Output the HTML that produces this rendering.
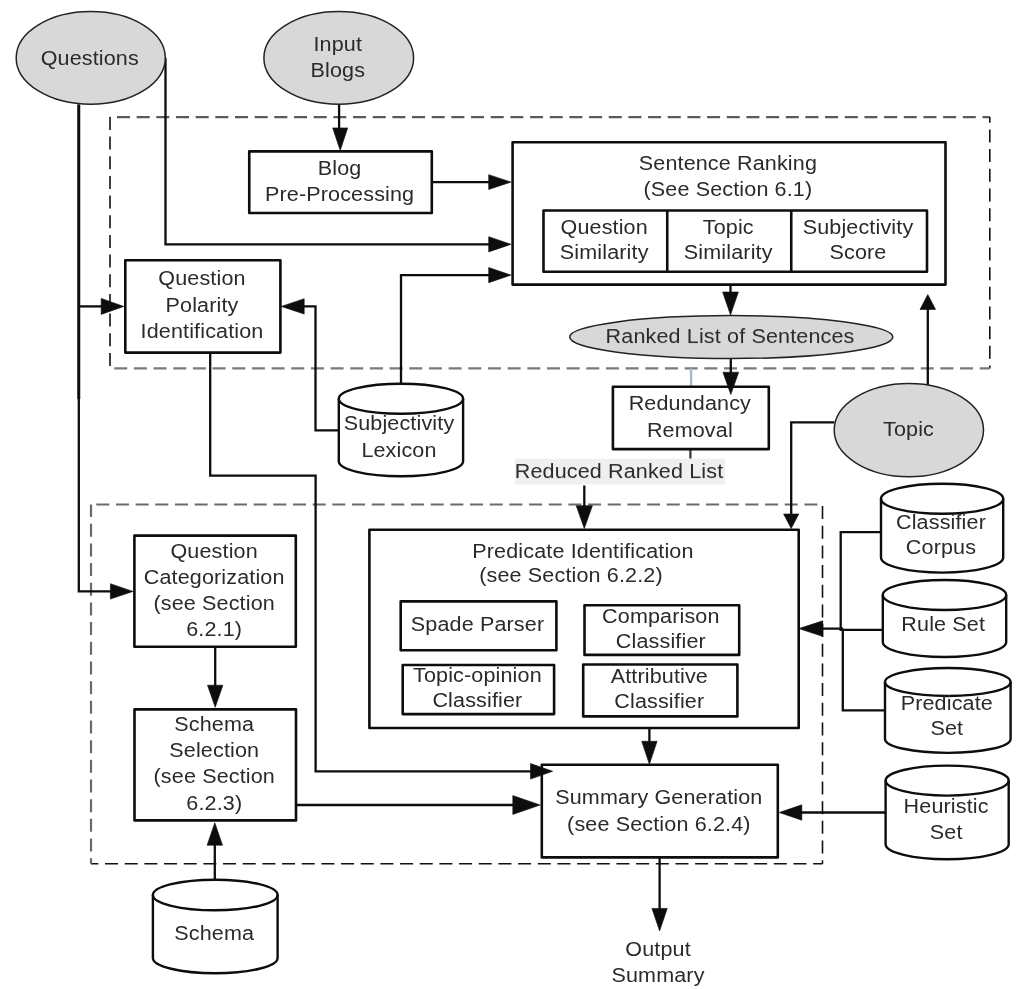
<!DOCTYPE html>
<html><head><meta charset="utf-8"><style>
html,body{margin:0;padding:0;background:#fff;overflow:hidden;}
svg{display:block;will-change:transform;}
</style></head><body>
<svg width="1022" height="989" viewBox="0 0 1022 989">
<rect x="0" y="0" width="1022" height="989" fill="#fff"/>
<path d="M110,117.1 L989.8,117.1" fill="none" stroke="#5a5a5a" stroke-width="2.1" stroke-dasharray="13 6.67" stroke-dashoffset="12.67"/>
<path d="M989.8,117.1 L989.8,368.4" fill="none" stroke="#111" stroke-width="1.6" stroke-dasharray="13 6.67" stroke-dashoffset="7.32"/>
<path d="M989.8,368.4 L110,368.4" fill="none" stroke="#7a7a7a" stroke-width="2.3" stroke-dasharray="13 6.67" stroke-dashoffset="2.91"/>
<path d="M110,368.4 L110,117.1" fill="none" stroke="#111" stroke-width="1.6" stroke-dasharray="13 6.67" stroke-dashoffset="17.23"/>
<path d="M91,504.5 L822.5,504.5" fill="none" stroke="#6a6a6a" stroke-width="2.2" stroke-dasharray="13 6.67" stroke-dashoffset="14.37"/>
<path d="M822.5,504.5 L822.5,863.8" fill="none" stroke="#111" stroke-width="1.6" stroke-dasharray="13 6.67" stroke-dashoffset="18.08"/>
<path d="M822.5,863.8 L91,863.8" fill="none" stroke="#111" stroke-width="1.6" stroke-dasharray="13 6.67" stroke-dashoffset="3.65"/>
<path d="M91,863.8 L91,504.5" fill="none" stroke="#6a6a6a" stroke-width="2.2" stroke-dasharray="13 6.67" stroke-dashoffset="7.36"/>
<path d="M78.80,104.50 L78.80,591.40 L112.00,591.40" fill="none" stroke="#0d0d0d" stroke-width="2.3" stroke-linejoin="miter" stroke-linecap="butt"/>
<path d="M78.80,104.50 L78.80,399.00" fill="none" stroke="#0d0d0d" stroke-width="2.9" stroke-linejoin="miter" stroke-linecap="butt"/>
<path d="M78.80,306.40 L103.00,306.40" fill="none" stroke="#0d0d0d" stroke-width="2.3" stroke-linejoin="miter" stroke-linecap="butt"/>
<path d="M165.50,58.00 L165.50,244.30 L490.00,244.30" fill="none" stroke="#0d0d0d" stroke-width="2.3" stroke-linejoin="miter" stroke-linecap="butt"/>
<path d="M339.10,104.50 L339.10,130.00" fill="none" stroke="#0d0d0d" stroke-width="2.3" stroke-linejoin="miter" stroke-linecap="butt"/>
<path d="M432.00,182.05 L490.00,182.05" fill="none" stroke="#0d0d0d" stroke-width="2.3" stroke-linejoin="miter" stroke-linecap="butt"/>
<path d="M401.00,383.80 L401.00,275.10 L490.00,275.10" fill="none" stroke="#0d0d0d" stroke-width="2.3" stroke-linejoin="miter" stroke-linecap="butt"/>
<path d="M338.80,430.30 L315.50,430.30 L315.50,306.40 L300.00,306.40" fill="none" stroke="#0d0d0d" stroke-width="2.3" stroke-linejoin="miter" stroke-linecap="butt"/>
<path d="M210.20,352.60 L210.20,475.60 L315.60,475.60 L315.60,771.30 L533.00,771.30" fill="none" stroke="#0d0d0d" stroke-width="2.3" stroke-linejoin="miter" stroke-linecap="butt"/>
<path d="M730.50,271.70 L730.50,295.00" fill="none" stroke="#0d0d0d" stroke-width="2.3" stroke-linejoin="miter" stroke-linecap="butt"/>
<path d="M730.80,358.50 L730.80,375.00" fill="none" stroke="#0d0d0d" stroke-width="2.3" stroke-linejoin="miter" stroke-linecap="butt"/>
<path d="M691.10,368.40 L691.10,386.70" fill="none" stroke="#a9b9cc" stroke-width="2.4" stroke-linejoin="miter" stroke-linecap="butt"/>
<path d="M690.40,449.10 L690.40,458.70" fill="none" stroke="#333" stroke-width="2.2" stroke-linejoin="miter" stroke-linecap="butt"/>
<rect x="515" y="458.7" width="210" height="25.8" fill="#efefef"/>
<path d="M584.30,485.50 L584.30,508.00" fill="none" stroke="#0d0d0d" stroke-width="2.3" stroke-linejoin="miter" stroke-linecap="butt"/>
<path d="M834.20,422.40 L791.20,422.40 L791.20,516.00" fill="none" stroke="#0d0d0d" stroke-width="2.3" stroke-linejoin="miter" stroke-linecap="butt"/>
<path d="M927.80,385.20 L927.80,307.00" fill="none" stroke="#0d0d0d" stroke-width="2.3" stroke-linejoin="miter" stroke-linecap="butt"/>
<path d="M881.00,532.20 L840.70,532.20 L840.70,629.80 L842.80,629.80 L842.80,710.40 L886.00,710.40" fill="none" stroke="#0d0d0d" stroke-width="2.3" stroke-linejoin="miter" stroke-linecap="butt"/>
<path d="M882.80,629.80 L842.00,629.80 L842.00,628.60 L820.00,628.60" fill="none" stroke="#0d0d0d" stroke-width="2.3" stroke-linejoin="miter" stroke-linecap="butt"/>
<path d="M649.40,728.00 L649.40,745.00" fill="none" stroke="#0d0d0d" stroke-width="2.3" stroke-linejoin="miter" stroke-linecap="butt"/>
<path d="M215.20,646.80 L215.20,690.00" fill="none" stroke="#0d0d0d" stroke-width="2.3" stroke-linejoin="miter" stroke-linecap="butt"/>
<path d="M214.80,879.70 L214.80,840.00" fill="none" stroke="#0d0d0d" stroke-width="2.3" stroke-linejoin="miter" stroke-linecap="butt"/>
<path d="M296.00,805.00 L520.00,805.00" fill="none" stroke="#0d0d0d" stroke-width="2.3" stroke-linejoin="miter" stroke-linecap="butt"/>
<path d="M885.60,812.50 L798.00,812.50" fill="none" stroke="#0d0d0d" stroke-width="2.3" stroke-linejoin="miter" stroke-linecap="butt"/>
<path d="M659.60,857.40 L659.60,912.00" fill="none" stroke="#0d0d0d" stroke-width="2.3" stroke-linejoin="miter" stroke-linecap="butt"/>
<ellipse cx="90.75" cy="57.95" rx="74.55" ry="46.35" fill="#d8d8d8" stroke="#222" stroke-width="1.5"/>
<ellipse cx="338.75" cy="57.95" rx="74.85" ry="46.35" fill="#d8d8d8" stroke="#222" stroke-width="1.5"/>
<ellipse cx="731.25" cy="337.05" rx="161.55" ry="21.45" fill="#d8d8d8" stroke="#222" stroke-width="1.5"/>
<ellipse cx="908.85" cy="430.10" rx="74.65" ry="46.60" fill="#d8d8d8" stroke="#222" stroke-width="1.5"/>
<rect x="249.25" y="151.35" width="182.55" height="61.65" fill="#fff" stroke="#0d0d0d" stroke-width="2.6" stroke-linejoin="round"/>
<rect x="512.60" y="142.20" width="432.90" height="142.40" fill="#fff" stroke="#0d0d0d" stroke-width="2.6" stroke-linejoin="round"/>
<rect x="543.50" y="210.50" width="383.50" height="61.20" fill="#fff" stroke="#0d0d0d" stroke-width="2.6" stroke-linejoin="round"/>
<path d="M667.25,210.50 L667.25,271.70" fill="none" stroke="#0d0d0d" stroke-width="2.6" stroke-linejoin="miter" stroke-linecap="butt"/>
<path d="M791.25,210.50 L791.25,271.70" fill="none" stroke="#0d0d0d" stroke-width="2.6" stroke-linejoin="miter" stroke-linecap="butt"/>
<rect x="125.30" y="260.25" width="155.10" height="92.35" fill="#fff" stroke="#0d0d0d" stroke-width="2.6" stroke-linejoin="round"/>
<rect x="612.90" y="386.70" width="155.90" height="62.40" fill="#fff" stroke="#0d0d0d" stroke-width="2.6" stroke-linejoin="round"/>
<rect x="369.40" y="529.80" width="429.30" height="198.20" fill="#fff" stroke="#0d0d0d" stroke-width="2.6" stroke-linejoin="round"/>
<rect x="400.70" y="601.40" width="155.70" height="48.80" fill="#fff" stroke="#0d0d0d" stroke-width="2.6" stroke-linejoin="round"/>
<rect x="402.70" y="665.00" width="151.40" height="49.10" fill="#fff" stroke="#0d0d0d" stroke-width="2.6" stroke-linejoin="round"/>
<rect x="584.50" y="605.30" width="154.70" height="49.60" fill="#fff" stroke="#0d0d0d" stroke-width="2.6" stroke-linejoin="round"/>
<rect x="583.20" y="664.50" width="154.20" height="51.90" fill="#fff" stroke="#0d0d0d" stroke-width="2.6" stroke-linejoin="round"/>
<rect x="134.40" y="535.60" width="161.40" height="111.20" fill="#fff" stroke="#0d0d0d" stroke-width="2.6" stroke-linejoin="round"/>
<rect x="134.50" y="709.40" width="161.50" height="111.00" fill="#fff" stroke="#0d0d0d" stroke-width="2.6" stroke-linejoin="round"/>
<rect x="541.80" y="764.80" width="236.00" height="92.60" fill="#fff" stroke="#0d0d0d" stroke-width="2.6" stroke-linejoin="round"/>
<path d="M338.80,398.80 L338.80,461.20 A62.15,15 0 0 0 463.10,461.20 L463.10,398.80 A62.15,15 0 0 0 338.80,398.80 Z" fill="#fff" stroke="#0d0d0d" stroke-width="2.4"/>
<path d="M338.80,398.80 A62.15,15 0 0 0 463.10,398.80" fill="none" stroke="#0d0d0d" stroke-width="2.4"/>
<path d="M881.00,498.80 L881.00,557.60 A61.10,15 0 0 0 1003.20,557.60 L1003.20,498.80 A61.10,15 0 0 0 881.00,498.80 Z" fill="#fff" stroke="#0d0d0d" stroke-width="2.4"/>
<path d="M881.00,498.80 A61.10,15 0 0 0 1003.20,498.80" fill="none" stroke="#0d0d0d" stroke-width="2.4"/>
<path d="M882.80,595.00 L882.80,642.00 A61.70,15 0 0 0 1006.20,642.00 L1006.20,595.00 A61.70,15 0 0 0 882.80,595.00 Z" fill="#fff" stroke="#0d0d0d" stroke-width="2.4"/>
<path d="M882.80,595.00 A61.70,15 0 0 0 1006.20,595.00" fill="none" stroke="#0d0d0d" stroke-width="2.4"/>
<path d="M885.00,682.00 L885.00,738.90 A62.80,14 0 0 0 1010.60,738.90 L1010.60,682.00 A62.80,14 0 0 0 885.00,682.00 Z" fill="#fff" stroke="#0d0d0d" stroke-width="2.4"/>
<path d="M885.00,682.00 A62.80,14 0 0 0 1010.60,682.00" fill="none" stroke="#0d0d0d" stroke-width="2.4"/>
<path d="M885.60,780.60 L885.60,844.20 A61.55,15 0 0 0 1008.70,844.20 L1008.70,780.60 A61.55,15 0 0 0 885.60,780.60 Z" fill="#fff" stroke="#0d0d0d" stroke-width="2.4"/>
<path d="M885.60,780.60 A61.55,15 0 0 0 1008.70,780.60" fill="none" stroke="#0d0d0d" stroke-width="2.4"/>
<path d="M152.90,895.00 L152.90,957.90 A62.35,15.3 0 0 0 277.60,957.90 L277.60,895.00 A62.35,15.3 0 0 0 152.90,895.00 Z" fill="#fff" stroke="#0d0d0d" stroke-width="2.4"/>
<path d="M152.90,895.00 A62.35,15.3 0 0 0 277.60,895.00" fill="none" stroke="#0d0d0d" stroke-width="2.4"/>
<path d="M133.00,591.40 L110.40,583.70 L110.40,599.10 Z" fill="#0d0d0d" stroke="#0d0d0d" stroke-width="0.6" stroke-linejoin="miter"/>
<path d="M123.80,306.40 L101.20,298.40 L101.20,314.40 Z" fill="#0d0d0d" stroke="#0d0d0d" stroke-width="0.6" stroke-linejoin="miter"/>
<path d="M511.00,244.30 L488.70,236.70 L488.70,251.90 Z" fill="#0d0d0d" stroke="#0d0d0d" stroke-width="0.6" stroke-linejoin="miter"/>
<path d="M340.20,150.50 L332.70,127.90 L347.70,127.90 Z" fill="#0d0d0d" stroke="#0d0d0d" stroke-width="0.6" stroke-linejoin="miter"/>
<path d="M511.00,182.05 L488.70,174.65 L488.70,189.45 Z" fill="#0d0d0d" stroke="#0d0d0d" stroke-width="0.6" stroke-linejoin="miter"/>
<path d="M511.00,275.10 L488.70,267.50 L488.70,282.70 Z" fill="#0d0d0d" stroke="#0d0d0d" stroke-width="0.6" stroke-linejoin="miter"/>
<path d="M281.30,306.40 L304.20,298.70 L304.20,314.10 Z" fill="#0d0d0d" stroke="#0d0d0d" stroke-width="0.6" stroke-linejoin="miter"/>
<path d="M552.70,771.30 L530.50,763.50 L530.50,779.10 Z" fill="#0d0d0d" stroke="#0d0d0d" stroke-width="0.6" stroke-linejoin="miter"/>
<path d="M730.50,315.00 L722.60,292.00 L738.40,292.00 Z" fill="#0d0d0d" stroke="#0d0d0d" stroke-width="0.6" stroke-linejoin="miter"/>
<path d="M730.80,394.60 L722.90,372.20 L738.70,372.20 Z" fill="#0d0d0d" stroke="#0d0d0d" stroke-width="0.6" stroke-linejoin="miter"/>
<path d="M584.30,528.50 L576.20,505.70 L592.40,505.70 Z" fill="#0d0d0d" stroke="#0d0d0d" stroke-width="0.6" stroke-linejoin="miter"/>
<path d="M791.20,528.60 L783.60,514.00 L798.80,514.00 Z" fill="#0d0d0d" stroke="#0d0d0d" stroke-width="0.6" stroke-linejoin="miter"/>
<path d="M927.80,294.50 L920.00,309.50 L935.60,309.50 Z" fill="#0d0d0d" stroke="#0d0d0d" stroke-width="0.6" stroke-linejoin="miter"/>
<path d="M798.80,628.60 L822.80,620.80 L822.80,636.40 Z" fill="#0d0d0d" stroke="#0d0d0d" stroke-width="0.6" stroke-linejoin="miter"/>
<path d="M649.40,764.30 L641.70,741.30 L657.10,741.30 Z" fill="#0d0d0d" stroke="#0d0d0d" stroke-width="0.6" stroke-linejoin="miter"/>
<path d="M215.20,707.30 L207.50,685.20 L222.90,685.20 Z" fill="#0d0d0d" stroke="#0d0d0d" stroke-width="0.6" stroke-linejoin="miter"/>
<path d="M214.80,822.70 L207.10,845.20 L222.50,845.20 Z" fill="#0d0d0d" stroke="#0d0d0d" stroke-width="0.6" stroke-linejoin="miter"/>
<path d="M540.20,805.00 L512.80,795.60 L512.80,814.40 Z" fill="#0d0d0d" stroke="#0d0d0d" stroke-width="0.6" stroke-linejoin="miter"/>
<path d="M779.20,812.50 L801.80,804.80 L801.80,820.20 Z" fill="#0d0d0d" stroke="#0d0d0d" stroke-width="0.6" stroke-linejoin="miter"/>
<path d="M659.60,931.00 L651.95,908.40 L667.25,908.40 Z" fill="#0d0d0d" stroke="#0d0d0d" stroke-width="0.6" stroke-linejoin="miter"/>
<g font-family="Liberation Sans, sans-serif" font-size="21" letter-spacing="0.15" text-anchor="middle" fill="#2a2a2a" opacity="0.999">
<text transform="translate(89.75,64.50) scale(1.025,1)">Questions</text>
<text transform="translate(337.75,51.25) scale(1.025,1)">Input</text>
<text transform="translate(337.75,76.75) scale(1.025,1)">Blogs</text>
<text transform="translate(339.60,174.70) scale(1.025,1)">Blog</text>
<text transform="translate(339.60,201.10) scale(1.025,1)">Pre-Processing</text>
<text transform="translate(727.90,169.50) scale(1.025,1)">Sentence Ranking</text>
<text transform="translate(727.90,195.50) scale(1.025,1)">(See Section 6.1)</text>
<text transform="translate(604.20,233.75) scale(1.025,1)">Question</text>
<text transform="translate(604.20,259.25) scale(1.025,1)">Similarity</text>
<text transform="translate(728.25,233.75) scale(1.025,1)">Topic</text>
<text transform="translate(728.25,259.25) scale(1.025,1)">Similarity</text>
<text transform="translate(858.00,233.75) scale(1.025,1)">Subjectivity</text>
<text transform="translate(858.00,259.25) scale(1.025,1)">Score</text>
<text transform="translate(202.00,285.25) scale(1.025,1)">Question</text>
<text transform="translate(202.00,311.50) scale(1.025,1)">Polarity</text>
<text transform="translate(202.00,337.75) scale(1.025,1)">Identification</text>
<text transform="translate(730.00,343.30) scale(1.025,1)">Ranked List of Sentences</text>
<text transform="translate(908.50,435.80) scale(1.025,1)">Topic</text>
<text transform="translate(689.85,410.30) scale(1.025,1)">Redundancy</text>
<text transform="translate(689.85,436.60) scale(1.025,1)">Removal</text>
<text transform="translate(399.00,429.60) scale(1.025,1)">Subjectivity</text>
<text transform="translate(399.00,456.60) scale(1.025,1)">Lexicon</text>
<text transform="translate(619.00,477.80) scale(1.025,1)">Reduced Ranked List</text>
<text transform="translate(582.90,557.60) scale(1.025,1)">Predicate Identification</text>
<text transform="translate(571.00,581.80) scale(1.025,1)">(see Section 6.2.2)</text>
<text transform="translate(477.50,631.20) scale(1.025,1)">Spade Parser</text>
<text transform="translate(477.40,681.50) scale(1.025,1)">Topic-opinion</text>
<text transform="translate(477.40,707.00) scale(1.025,1)">Classifier</text>
<text transform="translate(660.85,622.60) scale(1.025,1)">Comparison</text>
<text transform="translate(660.85,648.00) scale(1.025,1)">Classifier</text>
<text transform="translate(659.30,682.90) scale(1.025,1)">Attributive</text>
<text transform="translate(659.30,708.30) scale(1.025,1)">Classifier</text>
<text transform="translate(214.15,558.00) scale(1.025,1)">Question</text>
<text transform="translate(214.15,584.00) scale(1.025,1)">Categorization</text>
<text transform="translate(214.15,610.10) scale(1.025,1)">(see Section</text>
<text transform="translate(214.15,636.10) scale(1.025,1)">6.2.1)</text>
<text transform="translate(214.25,730.70) scale(1.025,1)">Schema</text>
<text transform="translate(214.25,757.00) scale(1.025,1)">Selection</text>
<text transform="translate(214.25,783.30) scale(1.025,1)">(see Section</text>
<text transform="translate(214.25,809.50) scale(1.025,1)">6.2.3)</text>
<text transform="translate(658.85,804.00) scale(1.025,1)">Summary Generation</text>
<text transform="translate(658.85,830.80) scale(1.025,1)">(see Section 6.2.4)</text>
<text transform="translate(941.00,528.60) scale(1.025,1)">Classifier</text>
<text transform="translate(941.00,553.60) scale(1.025,1)">Corpus</text>
<text transform="translate(943.20,631.20) scale(1.025,1)">Rule Set</text>
<text transform="translate(946.80,709.80) scale(1.025,1)">Predicate</text>
<text transform="translate(946.80,735.30) scale(1.025,1)">Set</text>
<text transform="translate(946.15,813.00) scale(1.025,1)">Heuristic</text>
<text transform="translate(946.15,838.70) scale(1.025,1)">Set</text>
<text transform="translate(214.25,939.60) scale(1.025,1)">Schema</text>
<text transform="translate(658.00,955.80) scale(1.025,1)">Output</text>
<text transform="translate(658.00,982.00) scale(1.025,1)">Summary</text>
</g>
</svg>
</body></html>
